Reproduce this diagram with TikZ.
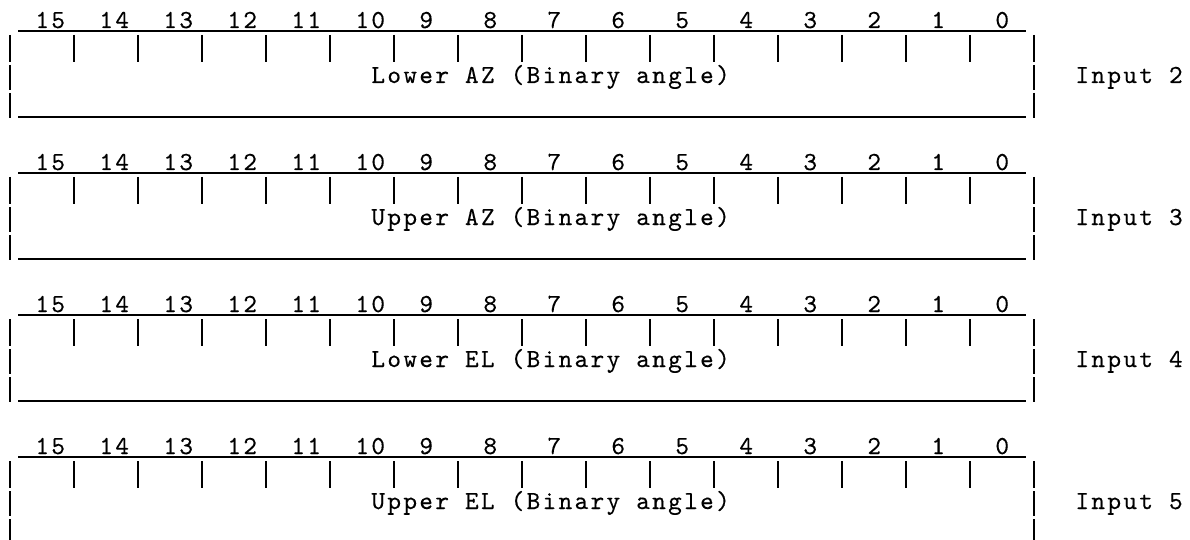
\documentclass[tikz,border=0pt]{standalone}
\usepackage{fontspec}
\newfontfamily\cour[LetterSpace=9.0, FakeBold=0.3]{lmmono10-regular.otf}
\tikzset{
  rule/.style={line width=1.4pt, black},
  txt/.style={font=\cour\fontsize{26}{28}\selectfont, inner sep=0pt, anchor=base west, text=black},
}
\begin{document}
\begin{tikzpicture}[x=1pt, y=-1pt]
\useasboundingbox (0,0) rectangle (1190,540);
\clip (0,0) rectangle (1190,540);
\foreach \b/\lab/\inp in {0/Lower AZ/2, 1/Upper AZ/3, 2/Lower EL/4, 3/Upper EL/5} {
  \pgfmathsetmacro\o{round(\b*142)}
  % bit numbers
  \foreach \k in {0,...,15} {
    \pgfmathsetmacro\c{4*(15-\k)+2}
    \node[txt] (num-\b-\k) at ({2+16*\c+1.2}, {28+\o}) {\k};
  }
  % top rule under the numbers
  \draw[rule] (18,{31+\o}) -- (1026,{31+\o});
  % row of bit separators
  \foreach \j in {0,...,16} {
    \draw[rule] ({10+64*\j},{35+\o}) -- ({10+64*\j},{62+\o});
  }
  % side walls
  \foreach \j in {0,16} {
    \draw[rule] ({10+64*\j},{65+\o}) -- ({10+64*\j},{90+\o});
    \draw[rule] ({10+64*\j},{93+\o}) -- ({10+64*\j},{118+\o});
  }
  % bottom rule
  \draw[rule] (18,{117+\o}) -- (1026,{117+\o});
  % field label and input name
  \node[txt] (lbl-\b) at ({2+16*23+1.2}, {83+\o}) {\lab\ (Binary angle)};
  \node[txt] (in-\b) at ({2+16*67+1.2}, {83+\o}) {Input \inp};
}
\end{tikzpicture}
\end{document}
